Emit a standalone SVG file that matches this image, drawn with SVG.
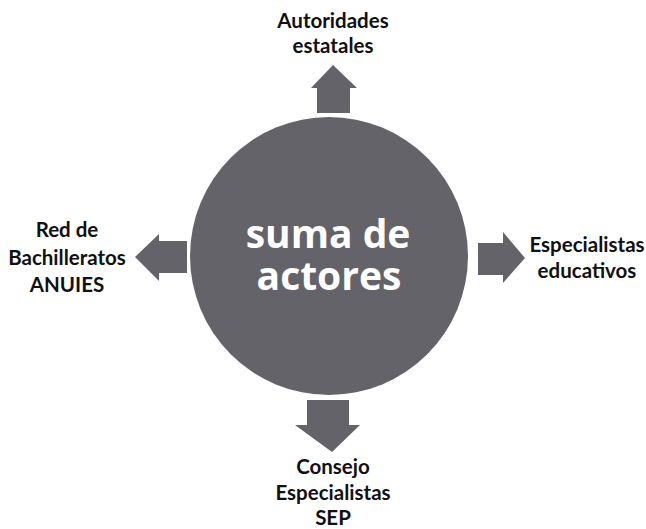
<svg xmlns="http://www.w3.org/2000/svg" width="646" height="529" viewBox="0 0 646 529">
<style>
.lbl{font-family:Lato,"Open Sans",sans-serif;font-weight:bold;font-size:20.5px;fill:#111;text-anchor:middle}
.ctr{font-family:"Open Sans","Noto Sans",sans-serif;font-weight:bold;font-size:39px;fill:#fff;text-anchor:middle}
.arr{fill:#636369}
</style>
<rect width="646" height="529" fill="#fff"/>
<g id="center">
<circle cx="329" cy="256" r="139" fill="#636369"/>
<text class="ctr"><tspan x="328" y="248">suma de</tspan><tspan x="329" y="290">actores</tspan></text>
</g>
<g id="connectors">
<polygon class="arr" points="317,113 350,113 350,88 357,88 333,65 311,88 317,88"/>
<polygon class="arr" points="187,241 187,273 159,273 159,281 135,257 159,234 159,241"/>
<polygon class="arr" points="478,243 503,243 503,232 525,258 503,283 503,275 478,275"/>
<polygon class="arr" points="307,400 349,400 349,425 360,425 332,452 295,425 307,425"/>
</g>
<g id="top">
<text class="lbl"><tspan x="333" y="28">Autoridades</tspan><tspan x="333" y="53">estatales</tspan></text>
</g>
<g id="left">
<text class="lbl"><tspan x="67" y="237">Red de</tspan><tspan x="67" y="265">Bachilleratos</tspan><tspan x="67" y="292">ANUIES</tspan></text>
</g>
<g id="right">
<text class="lbl"><tspan x="587" y="252">Especialistas</tspan><tspan x="587" y="278">educativos</tspan></text>
</g>
<g id="bottom">
<text class="lbl"><tspan x="333" y="474">Consejo</tspan><tspan x="333" y="500">Especialistas</tspan><tspan x="333" y="525">SEP</tspan></text>
</g>
</svg>
